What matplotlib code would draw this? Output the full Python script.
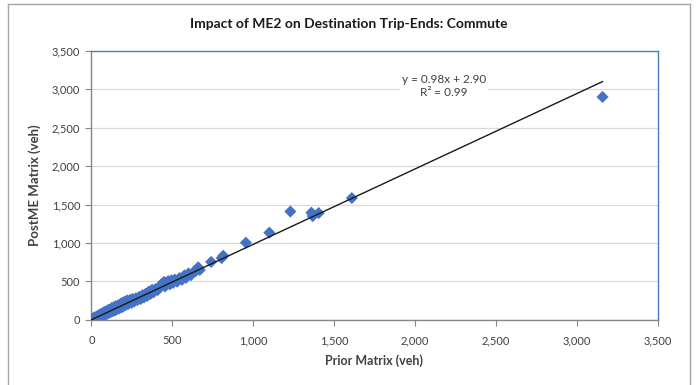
import matplotlib
matplotlib.use("Agg")
import matplotlib.pyplot as plt
from matplotlib.lines import Line2D
from matplotlib.ticker import FuncFormatter

plt.rcParams['font.family'] = ['Lato', 'DejaVu Sans']

# Zone trip-ends: prior matrix vs post-ME matrix (veh)
prior = [2, 5, 8, 10, 14, 18, 22, 25, 30, 35, 38, 42, 48, 52, 55, 60, 65, 70,
         75, 80, 85, 90, 95, 100, 105, 110, 118, 125, 130, 138, 145, 150, 158,
         165, 172, 180, 188, 195, 200, 208, 215, 222, 230, 240, 248, 255, 265,
         275, 285, 295, 305, 315, 325, 335, 345, 355, 365, 375, 385, 395, 410,
         430, 440, 450, 455, 465, 475, 485, 495, 505, 515, 530, 545, 560, 575,
         585, 600, 615, 630, 645, 660, 670,
         740, 805, 815, 955, 1100, 1230, 1360, 1368, 1405, 1610, 3160]
post_me = [8, 0, 15, 3, 28, 6, 36, 10, 20, 48, 24, 58, 30, 68, 38, 80, 50, 88,
           58, 105, 66, 110, 78, 125, 88, 135, 100, 155, 112, 165, 122, 180, 138,
           190, 150, 210, 165, 228, 180, 240, 196, 255, 210, 262, 222, 272, 240,
           282, 258, 300, 272, 322, 292, 340, 312, 370, 338, 392, 360, 400, 388,
           455, 478, 495, 435, 485, 505, 462, 515, 482, 525, 498, 545, 522, 580,
           548, 605, 582, 620, 635, 685, 650,
           755, 805, 835, 1005, 1135, 1410, 1395, 1350, 1390, 1585, 2900]

slope = 0.98
intercept = 2.90
r_squared = 0.99

x_ticks = [0, 500, 1000, 1500, 2000, 2500, 3000, 3500]
y_ticks = [0, 500, 1000, 1500, 2000, 2500, 3000, 3500]

fig = plt.figure(figsize=(6.98, 3.85), dpi=100)
ax = fig.add_axes([0.131, 0.169, 0.811, 0.699])

ax.set_xlim(x_ticks[0], x_ticks[-1])
ax.set_ylim(y_ticks[0], y_ticks[-1])
ax.set_xticks(x_ticks)
ax.set_yticks(y_ticks)
fmt = FuncFormatter(lambda v, p: f"{int(v):,}")
ax.xaxis.set_major_formatter(fmt)
ax.yaxis.set_major_formatter(fmt)

ax.grid(axis='y', color='#d9d9d9', linewidth=0.9)
ax.set_axisbelow(True)

for side in ('top', 'right'):
    ax.spines[side].set_color('#4a7ebb')
    ax.spines[side].set_linewidth(1.0)
for side in ('left', 'bottom'):
    ax.spines[side].set_color('#868686')
    ax.spines[side].set_linewidth(1.0)

ax.tick_params(axis='both', direction='out', length=4, width=0.8,
               color='#868686', labelsize=8, labelcolor='#404040', pad=4)
ax.tick_params(axis='x', pad=7)

ax.scatter(prior, post_me, marker='D', s=38, color='#4472c4',
           edgecolors='none', zorder=3)

# linear trendline over the range of the data
x0, x1 = min(prior), max(prior)
ax.plot([x0, x1], [slope * x0 + intercept, slope * x1 + intercept],
        color='#1a1a1a', linewidth=1.0, zorder=4)

ax.text(2180, 3040, f"y = {slope:.2f}x + {intercept:.2f}\nR² = {r_squared:.2f}",
        ha='center', va='center', fontsize=8.5, color='#404040',
        linespacing=1.25,
        bbox=dict(facecolor='white', edgecolor='none', pad=1.5), zorder=5)

ax.set_xlabel('Prior Matrix (veh)', fontsize=9, fontweight='bold',
              color='#404040', labelpad=6)
ax.set_ylabel('PostME Matrix (veh)', fontsize=9.5, fontweight='bold',
              color='#404040', labelpad=8)

fig.text(0.5, 0.938, 'Impact of ME2 on Destination Trip-Ends: Commute',
         ha='center', va='center', fontsize=10, fontweight='bold',
         color='#1a1a1a')

# chart frame
frame_kw = dict(color='#a6a6a6', linewidth=1.0, transform=fig.transFigure)
fig.add_artist(Line2D([0.012, 0.012], [0.0, 0.99], **frame_kw))
fig.add_artist(Line2D([0.988, 0.988], [0.0, 0.99], **frame_kw))
fig.add_artist(Line2D([0.012, 0.988], [0.99, 0.99], **frame_kw))

fig.savefig('out.png', dpi=100)
